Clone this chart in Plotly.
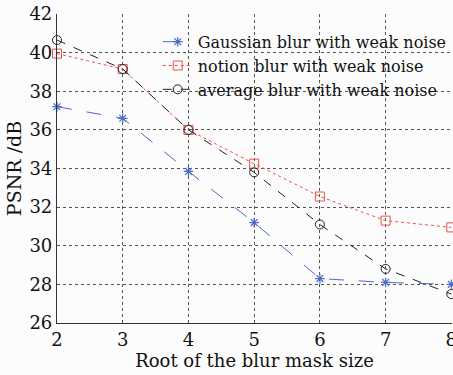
import plotly.graph_objects as go

x_vals = [2, 3, 4, 5, 6, 7, 8]
gaussian = [37.2, 36.6, 33.85, 31.2, 28.3, 28.1, 28.0]
notion = [39.95, 39.15, 36.0, 34.25, 32.55, 31.3, 30.95]
average = [40.65, 39.15, 36.0, 33.8, 31.1, 28.8, 27.5]
names = ["Gaussian blur with weak noise", "notion blur with weak noise", "average blur with weak noise"]
y_ticks = [26, 28, 30, 32, 34, 36, 38, 40, 42]

FONT = "DejaVu Serif"

fig = go.Figure()
fig.add_trace(go.Scatter(x=x_vals, y=gaussian, name=names[0], mode="lines+markers",
                         line=dict(color="#4a6cc8", width=1, dash="longdash"),
                         marker=dict(symbol="asterisk-open", size=8, color="#4a6cc8", line=dict(width=1.2, color="#4a6cc8")),
                         cliponaxis=False))
fig.add_trace(go.Scatter(x=x_vals, y=notion, name=names[1], mode="lines+markers",
                         line=dict(color="#f0504a", width=1, dash="dot"),
                         marker=dict(symbol="square-open", size=9, color="#f0504a", line=dict(width=1)),
                         cliponaxis=False))
fig.add_trace(go.Scatter(x=x_vals, y=average, name=names[2], mode="lines+markers",
                         line=dict(color="#222222", width=1, dash="dash"),
                         marker=dict(symbol="circle-open", size=9, color="#222222", line=dict(width=1)),
                         cliponaxis=False))

fig.update_layout(
    width=453, height=375,
    margin=dict(l=57, r=1, t=14, b=52, autoexpand=False),
    paper_bgcolor="#fcfcfc", plot_bgcolor="#fcfcfc",
    font=dict(family=FONT, color="#111111", size=16),
    showlegend=True,
    legend=dict(x=0.255, y=0.965, xanchor="left", yanchor="top", bgcolor="rgba(0,0,0,0)",
                font=dict(family=FONT, size=16), tracegroupgap=0, itemwidth=30),
    xaxis=dict(range=[2, 8.01], tickvals=x_vals, ticks="", showline=True, linecolor="#333333", linewidth=1.2,
               showgrid=True, gridcolor="#555555", griddash="dot", gridwidth=1, zeroline=False,
               automargin=False, ticklabeloverflow="allow",
               title=dict(text="Root of the blur mask size", font=dict(size=18), standoff=3),
               tickfont=dict(size=18)),
    yaxis=dict(range=[26, 42], tickvals=y_ticks, ticks="", showline=True, linecolor="#333333", linewidth=1.2,
               showgrid=True, gridcolor="#555555", griddash="dot", gridwidth=1, zeroline=False,
               automargin=False, ticklabeloverflow="allow",
               title=dict(text="PSNR /dB", font=dict(size=19), standoff=2),
               tickfont=dict(size=18)),
)

fig.write_html("out.html", config={"displayModeBar": False},
               post_script="document.body.style.margin='0';document.body.style.background='#fcfcfc';")
